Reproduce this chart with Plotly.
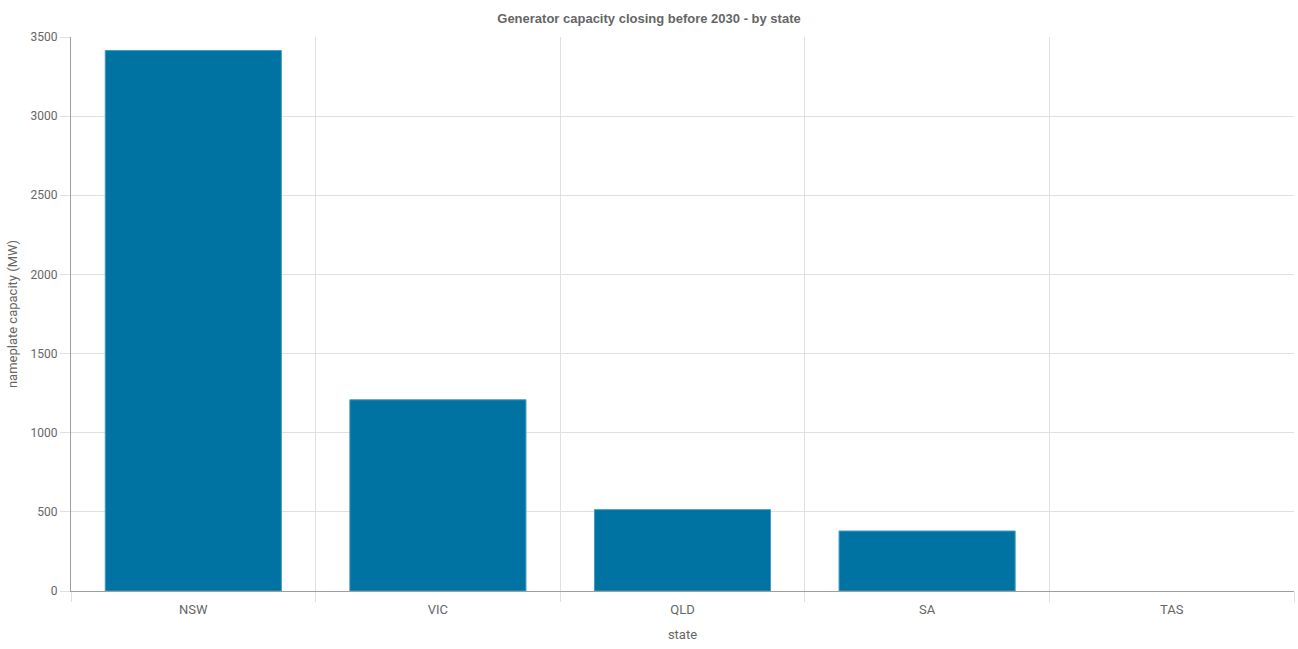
import plotly.graph_objects as go

states = ["NSW", "VIC", "QLD", "SA", "TAS"]
capacity_mw = [3415, 1208, 514, 379, 0]

bar_color = "#0073a2"
font_family = "Roboto, Arial, sans-serif"

border_colors = ["#4a98bf" if v > 0 else "rgba(0,0,0,0)" for v in capacity_mw]

fig = go.Figure(
    go.Bar(
        x=states,
        y=capacity_mw,
        marker=dict(color=bar_color, line=dict(color=border_colors, width=1)),
        width=0.72,
        hoverinfo="x+y",
    )
)

fig.update_layout(
    width=1298,
    height=649,
    margin=dict(l=71, r=4, t=37, b=58, autoexpand=False),
    paper_bgcolor="white",
    plot_bgcolor="white",
    font=dict(family=font_family, size=12, color="#666666"),
    title=dict(
        text="<b>Generator capacity closing before 2030 - by state</b>",
        x=0.5,
        xanchor="center",
        y=0.972,
        yanchor="middle",
        font=dict(family="Liberation Sans, Arial, sans-serif", size=13, color="#666666"),
    ),
    showlegend=False,
    bargap=0.28,
)

fig.update_xaxes(
    title=dict(text="state", font=dict(size=13, color="#666666"), standoff=14),
    tickson="boundaries",
    ticks="outside",
    ticklen=10,
    tickcolor="#e0e0e0",
    ticklabelstandoff=6,
    showgrid=True,
    gridcolor="#e0e0e0",
    gridwidth=1,
    showline=True,
    linecolor="#9e9e9e",
    linewidth=1,
    tickfont=dict(size=13, color="#666666"),
    range=[-0.5, 4.5],
    automargin=False,
)

fig.update_yaxes(
    title=dict(text="nameplate capacity (MW)", font=dict(size=13, color="#666666"), standoff=10),
    range=[0, 3500],
    dtick=500,
    ticks="outside",
    ticklen=10,
    tickcolor="#e0e0e0",
    showgrid=True,
    gridcolor="#e0e0e0",
    gridwidth=1,
    showline=True,
    linecolor="#9e9e9e",
    linewidth=1,
    zeroline=False,
    tickfont=dict(size=12, color="#666666"),
    automargin=False,
)

fig.write_html(
    "out.html",
    config={"displayModeBar": False},
    post_script="document.body.style.margin='0';document.body.style.overflow='hidden';",
)
